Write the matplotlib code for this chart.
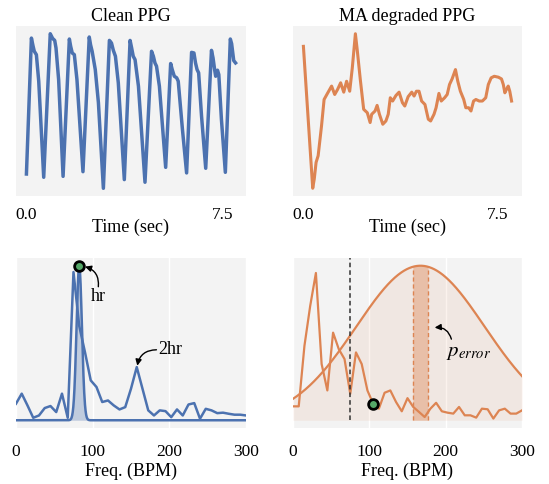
import matplotlib.pyplot as plt
import numpy as np

plt.rcParams['font.family'] = ['Liberation Serif', 'DejaVu Serif']
plt.rcParams['mathtext.fontset'] = 'stix'

blue = '#4c72b0'
orange = '#dd8452'
green = '#55a868'
bg = '#f3f3f3'

# clean PPG (sec, normalised amplitude)
t_clean = [0.0, 0.19, 0.25, 0.30, 0.38, 0.47, 0.66,
           0.91, 1.00, 1.08, 1.13, 1.23, 1.40,
           1.64, 1.69, 1.75, 1.83, 1.93, 2.16,
           2.40, 2.45, 2.51, 2.63, 2.75, 2.94,
           3.17, 3.25, 3.32, 3.40, 3.51, 3.74,
           3.96, 4.02, 4.08, 4.15, 4.28, 4.53,
           4.78, 4.85, 4.91, 4.97, 5.08, 5.32,
           5.51, 5.57, 5.65, 5.74, 5.80, 5.96, 6.12,
           6.31, 6.40, 6.46, 6.52, 6.58, 6.69, 6.85,
           7.07, 7.13, 7.19, 7.23, 7.30, 7.35, 7.45, 7.60,
           7.79, 7.84, 7.92, 7.99]
ppg_clean = [0.096, 0.972, 0.923, 0.887, 0.865, 0.694, 0.075,
             1.0, 0.97, 0.957, 0.908, 0.705, 0.081,
             0.966, 0.919, 0.876, 0.865, 0.705, 0.111,
             0.979, 0.929, 0.887, 0.769, 0.556, 0.004,
             0.957, 0.940, 0.893, 0.855, 0.684, 0.060,
             0.957, 0.908, 0.855, 0.833, 0.662, 0.043,
             0.887, 0.855, 0.812, 0.791, 0.662, 0.139,
             0.808, 0.769, 0.726, 0.716, 0.694, 0.385, 0.103,
             0.880, 0.876, 0.812, 0.769, 0.748, 0.470, 0.133,
             0.893, 0.844, 0.769, 0.726, 0.765, 0.737, 0.449, 0.107,
             0.966, 0.936, 0.827, 0.812]

# motion-artifact PPG
t_ma = [0.0, 0.36, 0.42, 0.49, 0.57, 0.70, 0.80, 0.93, 1.09, 1.21, 1.32,
        1.44, 1.56, 1.67, 1.79, 1.89, 2.01, 2.08, 2.20, 2.33, 2.47, 2.58,
        2.64, 2.77, 2.85, 2.94, 3.07, 3.19, 3.28, 3.36, 3.45, 3.58, 3.70,
        3.83, 3.92, 4.05, 4.19, 4.28, 4.37, 4.47, 4.57, 4.70, 4.83, 4.92,
        5.05, 5.13, 5.24, 5.33, 5.46, 5.56, 5.65, 5.75, 5.88, 5.97, 6.07,
        6.20, 6.28, 6.39, 6.48, 6.58, 6.67, 6.80, 6.92, 7.05, 7.15, 7.26,
        7.38, 7.54, 7.66, 7.73, 7.79, 7.85, 7.92, 7.98, 8.05]
ppg_ma = [0.915, 0.004, 0.064, 0.170, 0.213, 0.404, 0.574, 0.613, 0.660, 0.606, 0.638,
          0.681, 0.621, 0.691, 0.627, 0.776, 0.996, 0.894, 0.702, 0.511, 0.489, 0.426,
          0.479, 0.500, 0.536, 0.479, 0.415, 0.436, 0.479, 0.585, 0.564, 0.600, 0.621,
          0.553, 0.532, 0.592, 0.621, 0.596, 0.627, 0.627, 0.564, 0.542, 0.447, 0.436,
          0.479, 0.521, 0.613, 0.564, 0.585, 0.606, 0.670, 0.706, 0.766, 0.691, 0.627,
          0.574, 0.521, 0.521, 0.500, 0.564, 0.574, 0.564, 0.564, 0.585, 0.670, 0.713,
          0.723, 0.717, 0.706, 0.670, 0.617, 0.638, 0.660, 0.627, 0.564]

# spectra, 7.5 BPM bins from 0 to 300
freqs = np.arange(0, 301, 7.5)
spec_clean = [0.107, 0.172, 0.096, 0.016, 0.031, 0.079, 0.092, 0.053, 0.172, 0.016,
              0.959, 0.61, 0.44, 0.258, 0.215, 0.118, 0.128, 0.096, 0.070, 0.085,
              0.204, 0.344, 0.204, 0.064, 0.031, 0.064, 0.059, 0.020, 0.070, 0.031,
              0.102, 0.111, 0.010, 0.074, 0.064, 0.046, 0.049, 0.042, 0.036, 0.036,
              0.031]
spec_ma = [0.090, 0.090, 0.482, 0.739, 0.953, 0.364, 0.193, 0.567, 0.460, 0.396,
           0.171, 0.439, 0.364, 0.193, 0.107, 0.075, 0.178, 0.193, 0.118, 0.058,
           0.143, 0.086, 0.054, 0.021, 0.075, 0.113, 0.058, 0.049, 0.043, 0.086,
           0.032, 0.032, 0.017, 0.075, 0.071, 0.011, 0.064, 0.075, 0.043, 0.043,
           0.064]

hr_clean = 82.5      # estimated hr (narrow gaussian centre)
hr_sigma = 3.5
hr_true = 75         # dashed reference line
hr_ma_est = 105
prior_mu = 167
prior_sigma = 84
band = (157, 177)

f_fine = np.linspace(0, 300, 1201)
g_hr = np.exp(-(f_fine - hr_clean) ** 2 / (2 * hr_sigma ** 2))
g_prior = np.exp(-(f_fine - prior_mu) ** 2 / (2 * prior_sigma ** 2))

fig = plt.figure(figsize=(5.49, 4.85), dpi=100)
ax1 = fig.add_axes([0.0291, 0.5938, 0.4190, 0.3505])
ax2 = fig.add_axes([0.5337, 0.5938, 0.4171, 0.3505])
ax3 = fig.add_axes([0.0291, 0.1155, 0.4190, 0.3505])
ax4 = fig.add_axes([0.5337, 0.1155, 0.4171, 0.3505])

fs = 13

for ax in (ax1, ax2, ax3, ax4):
    ax.set_facecolor(bg)
    for s in ax.spines.values():
        s.set_visible(False)
    ax.set_yticks([])
    ax.tick_params(axis='x', length=0, labelsize=12.5)

# top row
ax1.plot(t_clean, ppg_clean, color=blue, lw=2.5)
ax2.plot(t_ma, ppg_ma, color=orange, lw=2.2)
for ax, title in ((ax1, 'Clean PPG'), (ax2, 'MA degraded PPG')):
    ax.set_xticks([0, 7.5])
    ax.set_xticklabels(['0.0', '7.5'])
    ax.tick_params(axis='x', pad=7)
    ax.set_xlabel('Time (sec)', fontsize=fs, labelpad=-3)
    ax.set_title(title, fontsize=fs, pad=4)

# bottom row
for ax in (ax3, ax4):
    ax.set_xlim(0, 300)
    ax.set_ylim(-0.05, 1.05)
    ax.set_xticks([0, 100, 200, 300])
    ax.tick_params(axis='x', pad=11)
    ax.grid(axis='x', color='white', lw=1)
    ax.set_axisbelow(True)
    ax.set_xlabel('Freq. (BPM)', fontsize=fs, labelpad=2)

ax3.plot(freqs, spec_clean, color=blue, lw=1.8)
ax3.plot(f_fine, g_hr, color=blue, lw=1.8)
ax3.fill_between(f_fine, 0, g_hr, color=blue, alpha=0.3, lw=0)
ax3.plot(hr_clean, 1.0, 'o', ms=7, mfc=green, mec='black', mew=2, zorder=5)
ax3.text(107.9, 0.808, 'hr', fontsize=fs, ha='center', va='center')
ax3.annotate('', xy=(90, 0.994), xytext=(107.4, 0.864),
             arrowprops=dict(arrowstyle='-|>', color='black', lw=1,
                             mutation_scale=9, shrinkA=0, shrinkB=0,
                             connectionstyle='arc3,rad=0.4'))
ax3.text(200.9, 0.463, '2hr', fontsize=fs, ha='center', va='center')
ax3.annotate('', xy=(158.2, 0.353), xytext=(183.2, 0.456),
             arrowprops=dict(arrowstyle='-|>', color='black', lw=1,
                             mutation_scale=9, shrinkA=0, shrinkB=0,
                             connectionstyle='arc3,rad=0.4'))

ax4.fill_between(f_fine, 0, g_prior, color=orange, alpha=0.1, lw=0)
in_band = (f_fine >= band[0]) & (f_fine <= band[1])
ax4.fill_between(f_fine[in_band], 0, g_prior[in_band], color=orange, alpha=0.4, lw=0)
for b in band:
    ax4.vlines(b, 0, np.exp(-(b - prior_mu) ** 2 / (2 * prior_sigma ** 2)),
               color=orange, lw=1, linestyles=(0, (3, 2)))
ax4.plot(f_fine, g_prior, color=orange, lw=1.6)
ax4.plot(freqs, spec_ma, color=orange, lw=1.6)
ax4.vlines(hr_true, 0, 1.05, color='#333333', lw=1.1, linestyles=(0, (3, 2)))
ax4.plot(hr_ma_est, spec_ma[14], 'o', ms=7, mfc=green, mec='black', mew=2, zorder=5)
ax4.text(200, 0.447, '$p_{error}$', fontsize=15, ha='left', va='center')
ax4.annotate('', xy=(185.6, 0.60), xytext=(207.5, 0.525),
             arrowprops=dict(arrowstyle='-|>', color='black', lw=1,
                             mutation_scale=9, shrinkA=0, shrinkB=0,
                             connectionstyle='arc3,rad=0.4'))

fig.savefig('out.png', dpi=100)
